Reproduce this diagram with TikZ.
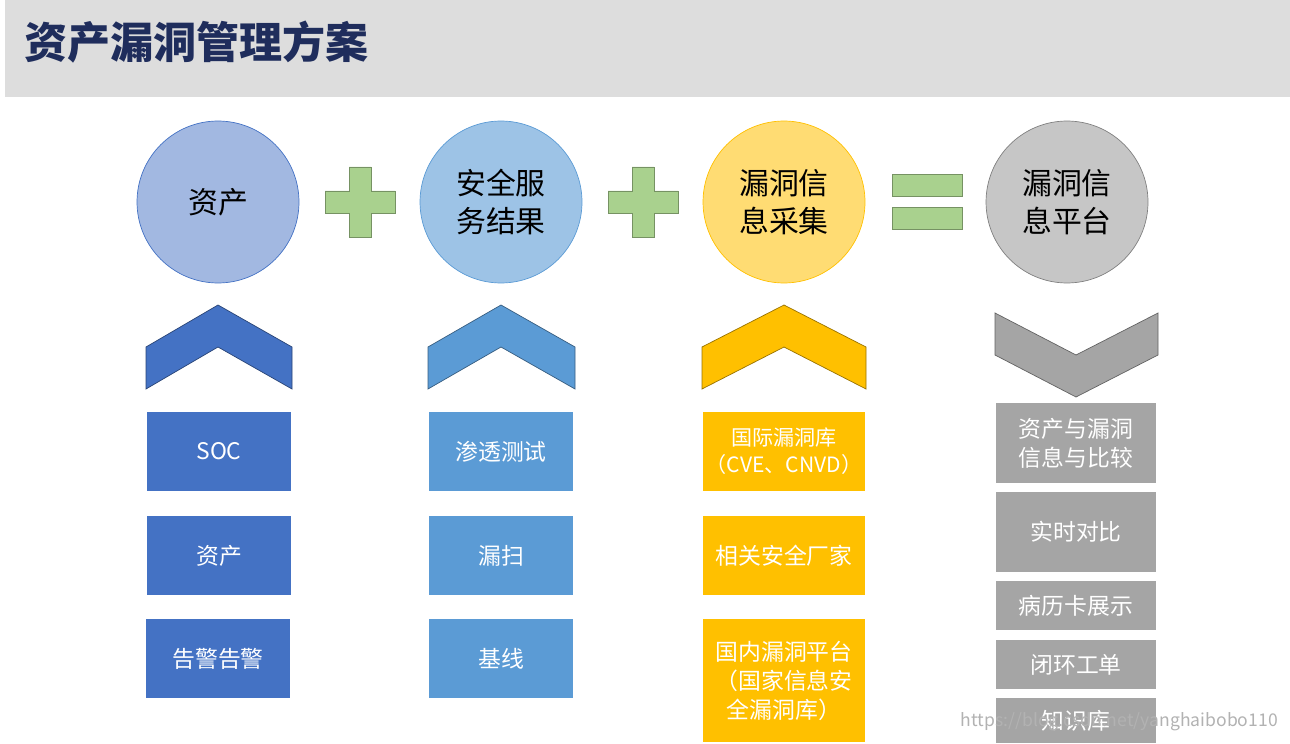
\documentclass[tikz,border=0pt]{standalone}
\usepackage{fontspec}
\setmainfont{Noto Sans CJK SC}
\usetikzlibrary{shapes.geometric}
\definecolor{navy}{HTML}{1F2D5C}
\definecolor{cblue}{HTML}{4472C4}
\definecolor{lblue}{HTML}{5B9BD5}
\definecolor{cgold}{HTML}{FFC000}
\definecolor{cgray}{HTML}{A5A5A5}
\definecolor{cgreen}{HTML}{A9D18E}
\begin{document}
\begin{tikzpicture}[x=0.02cm,y=-0.02cm]

	\tikzset{ball/.style={draw,circle,minimum size=3.24cm,font=\fontsize{17}{22}\selectfont,align=center}}
	\tikzset{card/.style={rectangle,text=white,font=\fontsize{13}{16.5}\selectfont,align=center,inner sep=0pt}}
	\tikzset{sign/.style={fill=cgreen,draw=cgreen!70!black,line width=0.5pt}}

	\useasboundingbox (0,0) rectangle (1290,743);
	\fill[gray!27] (5,0) rectangle (1290,97);
	\node[anchor=west,text=navy,font=\fontsize{24.5}{28}\selectfont\bfseries] (title) at (18,42) {资产漏洞管理方案};

	\node[ball,fill=cblue!50,draw=cblue] (asset) at (218,202) {资产};
	\node[ball,fill=lblue!60,draw=lblue] (svc) at (501,202) {安全服\\务结果};
	\node[ball,fill=cgold!55,draw=cgold] (collect) at (784,202) {漏洞信\\息采集};
	\node[ball,fill=gray!45,draw=gray] (platform) at (1067,202) {漏洞信\\息平台};

	% plus and equal signs
	\foreach \cx in {360,643}
		\draw[sign] (\cx-11,167) -- (\cx+11,167) -- (\cx+11,191) -- (\cx+35,191) -- (\cx+35,213) -- (\cx+11,213)
			-- (\cx+11,237) -- (\cx-11,237) -- (\cx-11,213) -- (\cx-35,213) -- (\cx-35,191) -- (\cx-11,191) -- cycle;
	\draw[sign] (892,174) rectangle (962,196);
	\draw[sign] (892,207) rectangle (962,229);

	% chevrons
	\draw[fill=cblue,draw=cblue!60!black] (146,347) -- (218,305) -- (292,347) -- (292,389) -- (218,347) -- (146,389) -- cycle;
	\draw[fill=lblue,draw=lblue!60!black] (428,347) -- (501,305) -- (575,347) -- (575,389) -- (501,347) -- (428,389) -- cycle;
	\draw[fill=cgold,draw=cgold!60!black] (702,347) -- (784,305) -- (866,347) -- (866,389) -- (784,347) -- (702,389) -- cycle;
	\draw[fill=cgray,draw=cgray!60!black] (995,313) -- (1076,355) -- (1158,313) -- (1158,355) -- (1076,397) -- (995,355) -- cycle;

	% cards
	\node[card,fill=cblue,minimum width=2.88cm,minimum height=1.58cm] (soc) at (219,451.5) {SOC};
	\node[card,fill=cblue,minimum width=2.88cm,minimum height=1.58cm] (assetcard) at (219,555.5) {资产};
	\node[card,fill=cblue,minimum width=2.88cm,minimum height=1.58cm] (alarm) at (218,658.5) {告警告警};

	\node[card,fill=lblue,minimum width=2.88cm,minimum height=1.58cm] (pentest) at (501,451.5) {渗透测试};
	\node[card,fill=lblue,minimum width=2.88cm,minimum height=1.58cm] (scan) at (501,555.5) {漏扫};
	\node[card,fill=lblue,minimum width=2.88cm,minimum height=1.58cm] (baseline) at (501,658.5) {基线};

	\node[card,fill=cgold,minimum width=3.24cm,minimum height=1.58cm,font=\fontsize{12}{15.5}\selectfont] (intl) at (784,451.5) {国际漏洞库\\（CVE、CNVD）};
	\node[card,fill=cgold,minimum width=3.24cm,minimum height=1.58cm] (vendor) at (784,555.5) {相关安全厂家};
	\node[card,fill=cgold,minimum width=3.24cm,minimum height=2.46cm] (domestic) at (784,680.5) {国内漏洞平台\\（国家信息安\\全漏洞库）};

	\node[card,fill=cgray,minimum width=3.2cm,minimum height=1.6cm] (compare) at (1076,443) {资产与漏洞\\信息与比较};
	\node[card,fill=cgray,minimum width=3.2cm,minimum height=1.6cm] (realtime) at (1076,532) {实时对比};
	\node[card,fill=cgray,minimum width=3.2cm,minimum height=0.98cm] (record) at (1076,605.5) {病历卡展示};
	\node[card,fill=cgray,minimum width=3.2cm,minimum height=0.98cm] (ticket) at (1076,664.5) {闭环工单};
	\node[card,fill=cgray,minimum width=3.2cm,minimum height=0.9cm] (kb) at (1076,720.5) {知识库};

	\node[anchor=east,text=gray!60,font=\fontsize{10}{12}\selectfont] (mark) at (1284,722) {https://blog.csdn.net/yanghaibobo110};

\end{tikzpicture}
\end{document}
